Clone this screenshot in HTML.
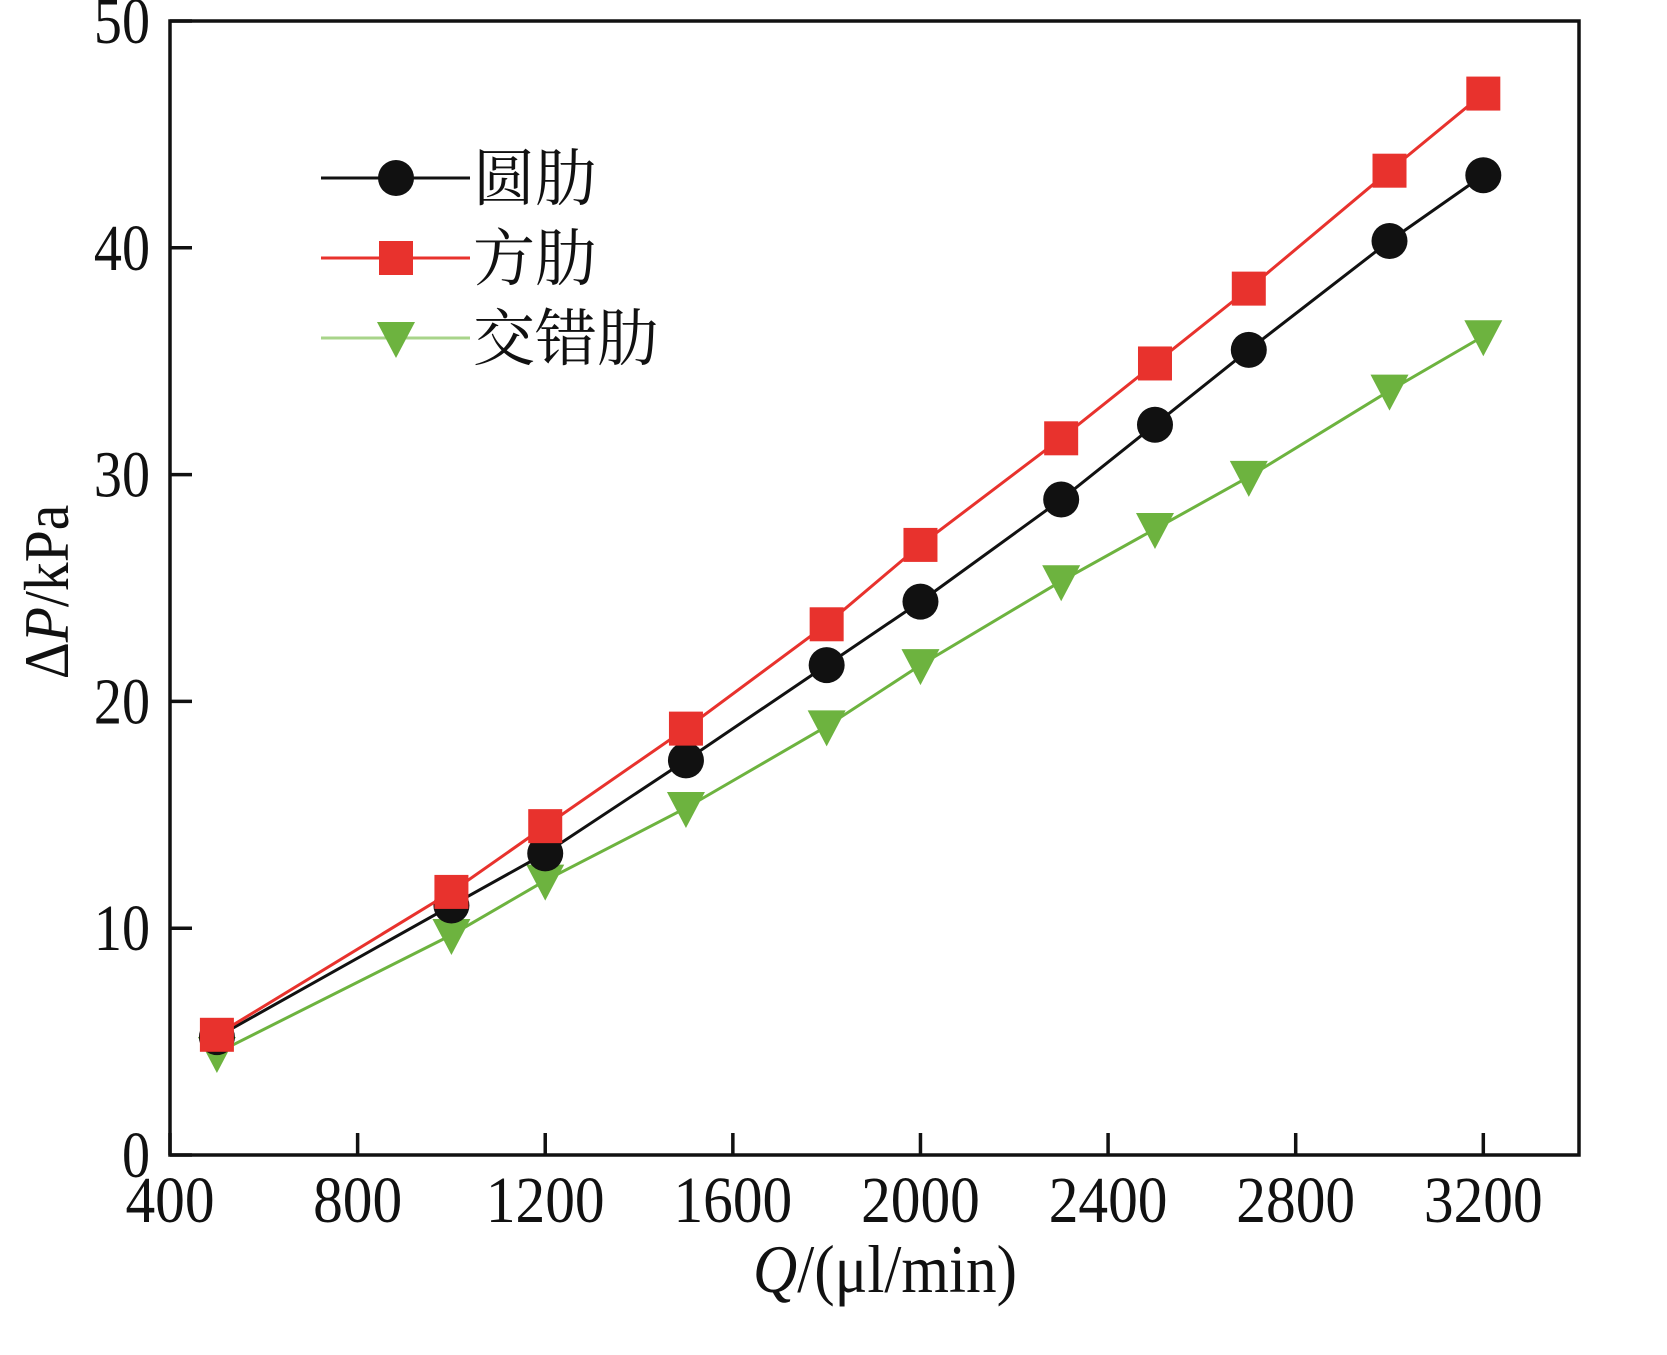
<!DOCTYPE html>
<html><head><meta charset="utf-8"><style>
html,body{margin:0;padding:0;background:#fff;}
svg{display:block;}
text{font-family:"Liberation Serif","Noto Serif CJK SC",serif;fill:#111;}
</style></head><body>
<svg id="chart" width="1667" height="1355" viewBox="0 0 1667 1355" xmlns="http://www.w3.org/2000/svg"></svg>
<script>
const xTicks=[400,800,1200,1600,2000,2400,2800,3200];
const yTicks=[0,10,20,30,40,50];
const flows=[500,1000,1200,1500,1800,2000,2300,2500,2700,3000,3200];
const roundRib=[5.2,11.0,13.3,17.4,21.6,24.4,28.9,32.2,35.5,40.3,43.2];
const squareRib=[5.3,11.6,14.5,18.8,23.4,26.9,31.6,34.9,38.2,43.4,46.8];
const staggeredRib=[4.5,9.7,12.1,15.3,18.9,21.6,25.3,27.6,29.9,33.7,36.1];
const seriesNames=["圆肋","方肋","交错肋"];

const L=170,R=1579,T=21,B=1155,xMin=400,xMax=3404,yMin=0,yMax=50;
const sx=v=>L+(v-xMin)/(xMax-xMin)*(R-L);
const sy=v=>B-(v-yMin)/(yMax-yMin)*(B-T);
const svg=document.getElementById('chart');
const NS='http://www.w3.org/2000/svg';
function mk(tag,attrs,parent){const e=document.createElementNS(NS,tag);for(const k in attrs)e.setAttribute(k,attrs[k]);(parent||svg).appendChild(e);return e;}

let f=mk('rect',{x:L,y:T,width:R-L,height:B-T,fill:'none',stroke:'#111','stroke-width':3.5});



xTicks.forEach(v=>{
 let t=mk('line',{x1:sx(v),x2:sx(v),y1:B,y2:B-22,stroke:'#111','stroke-width':3.5});
 
 
 let l=mk('text',{x:sx(v),y:1222,'text-anchor':'middle','font-size':66,transform:`translate(${sx(v)},0) scale(0.9,1) translate(${-sx(v)},0)`});
 l.textContent=v;
 
 
});
yTicks.forEach(v=>{
 let t=mk('line',{x1:L,x2:L+22,y1:sy(v),y2:sy(v),stroke:'#111','stroke-width':3.5});
 
 
 let l=mk('text',{x:150,y:sy(v)+22,'text-anchor':'end','font-size':66,transform:`translate(150,0) scale(0.85,1) translate(-150,0)`});
 l.textContent=v;
 
 
});

let xt=mk('text',{x:885,y:1292,'text-anchor':'middle','font-size':68,transform:'translate(885,0) scale(0.9,1) translate(-885,0)'});
xt.innerHTML='<tspan font-style="italic">Q</tspan>/(μl/min)';


let yt=mk('text',{x:0,y:0,'text-anchor':'middle','font-size':64,transform:'translate(68,592) rotate(-90) scale(0.9,1)'});
yt.innerHTML='Δ<tspan font-style="italic">P</tspan>/kPa';



function marker(type,cx,cy,color,parent){
 if(type==='circle') return mk('circle',{cx:cx,cy:cy,r:18,fill:'#111'},parent);
 if(type==='square') return mk('rect',{x:cx-17,y:cy-17,width:34,height:34,fill:color},parent);
 return mk('polygon',{points:`${cx-19},${cy-16} ${cx+19},${cy-16} ${cx},${cy+20}`,fill:color},parent);
}
const series=[
 {vals:roundRib,color:'#111',mcolor:'#111',type:'circle',name:'round-rib'},
 {vals:squareRib,color:'#e8322d',mcolor:'#e8322d',type:'square',name:'square-rib'},
 {vals:staggeredRib,color:'#6db33f',mcolor:'#6db33f',type:'triangle',name:'staggered-rib'}
];
[2,0,1].forEach(i=>{
 const s=series[i];
 const g=mk('g',{});
 
 
 const p=mk('polyline',{points:flows.map((q,j)=>sx(q)+','+sy(s.vals[j])).join(' '),fill:'none',stroke:s.color,'stroke-width':3},g);
 
 
 flows.forEach((q,j)=>{
  const m=marker(s.type,sx(q),sy(s.vals[j]),s.mcolor,g);
  
  
 });
});

const legY=[178,258,338];
const lg=mk('g',{});


series.forEach((s,i)=>{
 const e=mk('g',{},lg);
 
 
 mk('line',{x1:321,x2:470,y1:legY[i],y2:legY[i],stroke:i===2?'#a8d48a':s.color,'stroke-width':3},e);
 marker(s.type,396,legY[i],s.mcolor,e);
 const t=mk('text',{x:473,y:legY[i]+22,'font-size':62,'font-family':'"Noto Serif CJK SC","Noto Sans CJK SC",serif'},e);
 t.textContent=seriesNames[i];
});
</script>
</body></html>
